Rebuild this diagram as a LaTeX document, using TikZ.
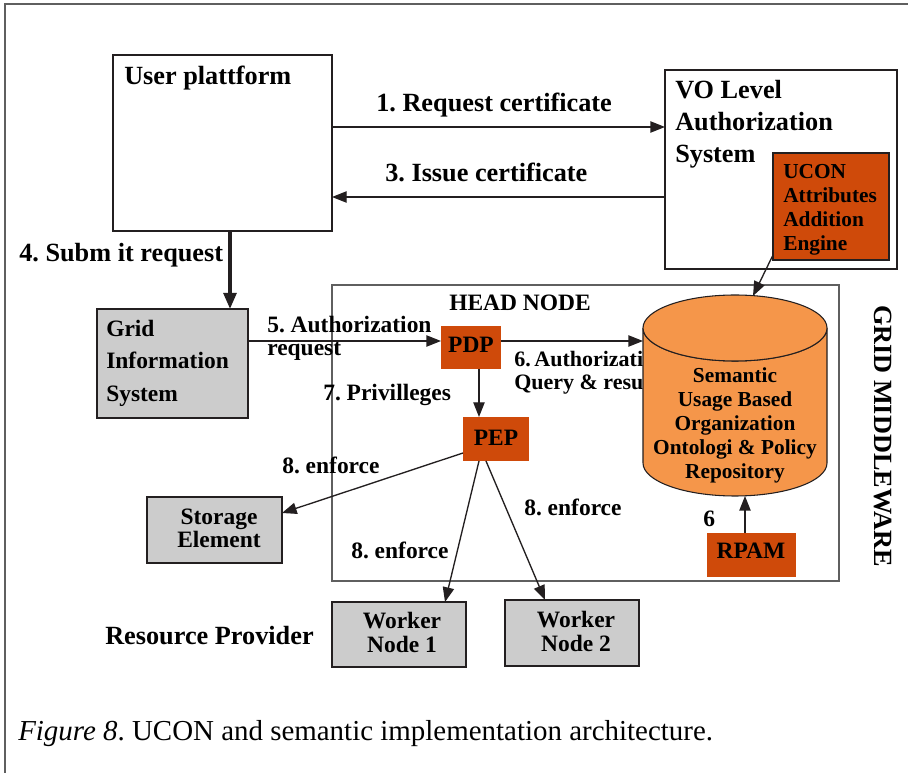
\documentclass[tikz,border=0pt]{standalone}
\usepackage{fontspec}
\setmainfont{Liberation Serif}
\usetikzlibrary{arrows.meta,fit}
\frenchspacing

\definecolor{boxred}{RGB}{207,74,10}
\definecolor{repofill}{RGB}{245,150,74}
\definecolor{boxgray}{RGB}{204,204,204}
\definecolor{ink}{RGB}{35,31,32}
\definecolor{framegray}{RGB}{95,95,95}

% type sizes (picture unit: 1 = 0.75pt)
\newcommand\LblBig{\fontsize{19.7}{24}\selectfont\bfseries}
\newcommand\LblMed{\fontsize{17.6}{22}\selectfont\bfseries}
\newcommand\LblSix{\fontsize{16.5}{20}\selectfont\bfseries}
\newcommand\LblSmall{\fontsize{16}{18}\selectfont\bfseries}
\newcommand\CapFont{\fontsize{21.7}{26}\selectfont}

\begin{document}
\begin{tikzpicture}[x=0.75pt,y=-0.75pt,
  box/.style={inner sep=0pt, outer sep=0pt, draw=ink, line width=1.1pt},
  graybox/.style={box, fill=boxgray},
  redbox/.style={inner sep=0pt, outer sep=0pt, fill=boxred},
  lbl/.style={inner sep=0pt, anchor=base west, text=black},
  clbl/.style={inner sep=0pt, anchor=base, text=black},
  flow/.style={draw=ink, line width=1pt, -{Triangle[length=11pt,width=8.5pt]}},
  bigflow/.style={draw=ink, line width=2.6pt, -{Triangle[length=12pt,width=9.5pt]}}]

\useasboundingbox (0,0) rectangle (908,773);
\fill[white] (0,0) rectangle (908,773);

% page frame
\draw[framegray, line width=1.5pt] (5,773) -- (5,4) -- (908,4);

% boxes
\node[box, draw=framegray, fit={(332,285) (839,581)}] (head) {};
\node[box, fit={(113,55) (332,231)}] (user) {};
\node[box, fit={(665,70) (897,269)}] (vo) {};
\node[redbox, draw=ink, line width=1pt, fit={(773,153) (889,260)}] (ucon) {};
\node[graybox, fit={(97,309) (248,418)}] (gis) {};
\node[redbox, fit={(441,326) (501,369)}] (pdp) {};
\node[redbox, fit={(463,417) (529,461)}] (pep) {};
\node[graybox, fit={(147,497) (282,563)}] (se) {};
\node[graybox, fit={(332,602) (466,667)}] (wn1) {};
\node[graybox, fit={(505,600) (639,666)}] (wn2) {};
\node[redbox, fit={(707,533) (796,577)}] (rpam) {};

% box texts
\node[lbl, font=\LblBig] (userT) at (124,85) {User plattform};
\node[lbl, font=\LblBig] (voT1) at (675,99) {VO Level};
\node[lbl, font=\LblBig] (voT2) at (675,131) {Authorization};
\node[lbl, font=\LblBig] (voT3) at (675,163) {System};
\node[lbl, font=\LblSmall] (uconT1) at (783,179) {UCON};
\node[lbl, font=\LblSmall] (uconT2) at (783,203) {Attributes};
\node[lbl, font=\LblSmall] (uconT3) at (783,227) {Addition};
\node[lbl, font=\LblSmall] (uconT4) at (783,251) {Engine};
\node[lbl, font=\LblMed] (gisT1) at (106,337) {Grid};
\node[lbl, font=\LblMed] (gisT2) at (106,369) {Information};
\node[lbl, font=\LblMed] (gisT3) at (106,402) {System};
\node[clbl, font=\LblMed] (headT) at (520,311) {HEAD NODE};
\node[clbl, font=\LblMed] (pdpT) at (471,353) {PDP};
\node[clbl, font=\LblMed] (pepT) at (496,446) {PEP};
\node[clbl, font=\LblMed] (rpamT) at (751,559) {RPAM};
\node[clbl, font=\LblMed] (seT1) at (219,525) {Storage};
\node[clbl, font=\LblMed] (seT2) at (219,548) {Element};
\node[clbl, font=\LblMed] (wn1T1) at (402,629) {Worker};
\node[clbl, font=\LblMed] (wn1T2) at (402,653) {Node 1};
\node[clbl, font=\LblMed] (wn2T1) at (576,628) {Worker};
\node[clbl, font=\LblMed] (wn2T2) at (576,652) {Node 2};
\node[lbl, font=\LblBig] (rp) at (105,645) {Resource Provider};
\node[rotate=-90, font=\LblBig, inner sep=0pt] (gm) at (883,436) {GRID MIDDLEWARE};

% connector labels
\node[lbl, font=\LblBig] (l1) at (376,112) {1. Request certificate};
\node[lbl, font=\LblBig] (l3) at (385,182) {3. Issue certificate};
\node[lbl, font=\LblBig] (l4) at (19,262) {4. Subm it request};
\node[lbl, font=\LblMed] (l5a) at (267,333) {5. Authorization};
\node[lbl, font=\LblMed] (l5b) at (267,356) {request};
\node[lbl, font=\LblSix] (l6a) at (514,367) {6.\,Authorization};
\node[lbl, font=\LblSix] (l6b) at (514,390) {Query \& result};
\node[lbl, font=\LblMed] (l7) at (323,401) {7. Privilleges};
\node[lbl, font=\LblMed] (l8a) at (282,474) {8. enforce};
\node[lbl, font=\LblMed] (l8b) at (351,559) {8. enforce};
\node[lbl, font=\LblMed] (l8c) at (524,516) {8. enforce};
\node[lbl, font=\LblMed] (l6) at (703,527) {6};

% repository cylinder
\filldraw[fill=repofill, draw=ink, line width=0.8pt]
  (643,328) -- (643,463)
  arc[start angle=180, end angle=0, x radius=92, y radius=33]
  -- (827,328)
  arc[start angle=0, end angle=180, x radius=92, y radius=33] -- cycle;
\filldraw[fill=repofill, draw=ink, line width=0.8pt]
  (735,328) ellipse[x radius=92, y radius=33];
\coordinate (repoW) at (643,341);
\coordinate (repoN) at (753,296);
\coordinate (repoS) at (745,496);
\node[clbl, font=\LblSmall] (repoT1) at (735,383) {Semantic};
\node[clbl, font=\LblSmall] (repoT2) at (735,407) {Usage Based};
\node[clbl, font=\LblSmall] (repoT3) at (735,431) {Organization};
\node[clbl, font=\LblSmall] (repoT4) at (735,455) {Ontologi \& Policy};
\node[clbl, font=\LblSmall] (repoT5) at (735,479) {Repository};

% connectors
\draw[flow] (user.east |- 0,127) -- (vo.west |- 0,127);
\draw[flow] (vo.west |- 0,197) -- (user.east |- 0,197);
\draw[bigflow] (user.south -| 230,0) -- (gis.north -| 230,0);
\draw[flow] (gis.east |- 0,341) -- (pdp.west |- 0,341);
\draw[flow] (pdp.east |- repoW) -- (repoW);
\draw[flow] (pdp.south -| 479,0) -- (pep.north -| 479,0);
\draw[flow] (pep.west |- 0,453) -- (se.east |- 0,513);
\draw[flow] (pep.south -| 479,0) -- (wn1.north -| 445,0);
\draw[flow] (pep.south -| 486,0) -- (wn2.north -| 545,0);
\draw[flow] ([yshift=3.75pt]ucon.south west) -- (repoN);
\draw[flow] (rpam.north -| repoS) -- (repoS);

% caption
\node[lbl, font=\CapFont] (cap) at (18,740) {\textit{Figure 8}. UCON and semantic implementation architecture.};
\end{tikzpicture}
\end{document}
